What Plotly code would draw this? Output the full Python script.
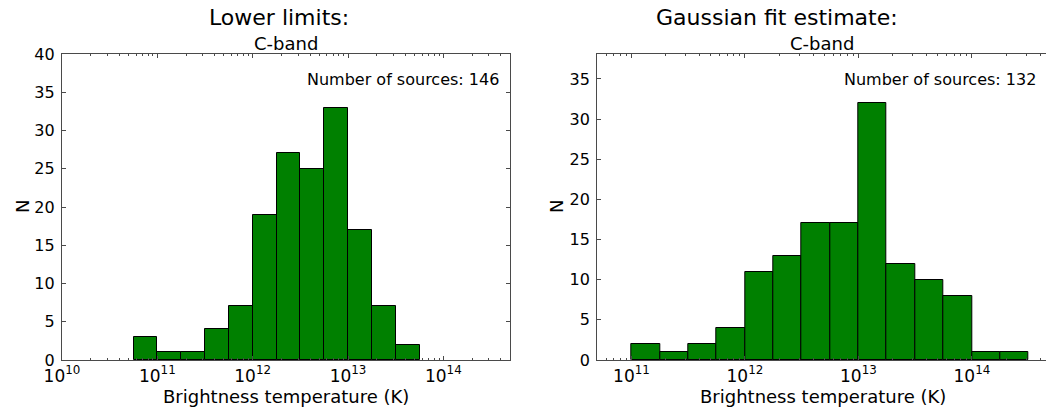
import math
import plotly.graph_objects as go

# ---------------- data ----------------
# histogram bin edges, expressed as log10(Brightness temperature / K)
lower_bin_edges = [10.75, 11.0, 11.25, 11.5, 11.75, 12.0, 12.25, 12.5, 12.75,
                   13.0, 13.25, 13.5, 13.75]
lower_counts = [3, 1, 1, 4, 7, 19, 27, 25, 33, 17, 7, 2]

gauss_bin_edges = [11.0, 11.25, 11.5, 11.75, 12.0, 12.25, 12.5, 12.75, 13.0,
                   13.25, 13.5, 13.75, 14.0, 14.25, 14.5]
gauss_counts = [2, 1, 2, 4, 11, 13, 17, 17, 32, 12, 10, 8, 1, 1]

decade_ticks_left = [10, 11, 12, 13, 14]
decade_ticks_right = [11, 12, 13, 14]
left_yticks = [0, 5, 10, 15, 20, 25, 30, 35, 40]
right_yticks = [0, 5, 10, 15, 20, 25, 30, 35]

panel_titles = ["Lower limits:", "Gaussian fit estimate:"]
band_label = "C-band"
source_labels = ["Number of sources: 146", "Number of sources: 132"]
x_label = "Brightness temperature (K)"
y_label = "N"

# ---------------- helpers ----------------
W, H = 1046, 410
FONT = "DejaVu Sans"
GREEN = "#008000"
SPINE = "#4a4a4a"


def centers(edges):
    return [(a + b) / 2 for a, b in zip(edges[:-1], edges[1:])]


def widths(edges):
    return [b - a for a, b in zip(edges[:-1], edges[1:])]


def minor_vals(lo, hi):
    out = []
    for n in range(int(math.floor(lo)), int(math.ceil(hi)) + 1):
        for k in range(2, 10):
            v = n + math.log10(k)
            if lo < v < hi:
                out.append(v)
    return out


fig = go.Figure()

fig.add_trace(go.Bar(
    x=centers(lower_bin_edges), y=lower_counts, width=widths(lower_bin_edges),
    marker=dict(color=GREEN, line=dict(color="black", width=1)),
    xaxis="x", yaxis="y", showlegend=False, hoverinfo="x+y"))

fig.add_trace(go.Bar(
    x=centers(gauss_bin_edges), y=gauss_counts, width=widths(gauss_bin_edges),
    marker=dict(color=GREEN, line=dict(color="black", width=1)),
    xaxis="x2", yaxis="y2", showlegend=False, hoverinfo="x+y"))

L0, L1 = 62 / W, 510 / W
R0, R1 = 597.3 / W, 1.0
YB, YT = 1 - 360 / H, 1 - 54 / H

left_xr = [10.0, 14.699]
right_xr = [10.699, 14.653]

xtickfont = dict(family=FONT, size=17, color="black")
ytickfont = dict(family=FONT, size=16, color="black")


def xaxis_cfg(domain, rng, ticks, anchor):
    return dict(
        domain=domain, range=rng, type="linear", anchor=anchor,
        tickmode="array", tickvals=ticks,
        ticktext=["10<sup>%d</sup>" % t for t in ticks],
        ticks="inside", ticklen=4, tickwidth=1, tickcolor=SPINE,
        showline=True, linecolor=SPINE, linewidth=1.3, mirror="allticks",
        showgrid=False, zeroline=False, tickfont=xtickfont, automargin=False,
        minor=dict(tickmode="array", tickvals=minor_vals(rng[0], rng[1]),
                   ticks="inside", ticklen=2, tickwidth=1, tickcolor=SPINE,
                   showgrid=False),
        fixedrange=True)


def yaxis_cfg(rng, ticks, anchor, mirror):
    return dict(domain=[YB, YT], range=rng, anchor=anchor,
                tickmode="array", tickvals=ticks,
                ticks="inside", ticklen=4, tickwidth=1, tickcolor=SPINE,
                showline=True, linecolor=SPINE, linewidth=1.3, mirror=mirror,
                showgrid=False, zeroline=False, tickfont=ytickfont,
                ticklabelstandoff=3, automargin=False, fixedrange=True)


fig.update_layout(
    width=W, height=H, margin=dict(l=0, r=0, t=0, b=0, autoexpand=False),
    paper_bgcolor="white", plot_bgcolor="white", bargap=0,
    font=dict(family=FONT, color="black"),
    xaxis=xaxis_cfg([L0, L1], left_xr, decade_ticks_left, "y"),
    xaxis2=xaxis_cfg([R0, R1], right_xr, decade_ticks_right, "y2"),
    yaxis=yaxis_cfg([0, 40], left_yticks, "x", "allticks"),
    yaxis2=yaxis_cfg([0, 38.1], right_yticks, "x2", False),
)


def px_x(p):
    return p / W


def px_y(p):
    return 1 - p / H


annotations = []
annotations.append(dict(x=px_x(279), y=px_y(17), text=panel_titles[0],
                        font=dict(size=22)))
annotations.append(dict(x=px_x(777), y=px_y(17), text=panel_titles[1],
                        font=dict(size=22)))
annotations.append(dict(x=px_x(286), y=px_y(44), text=band_label,
                        font=dict(size=18)))
annotations.append(dict(x=px_x(822), y=px_y(44), text=band_label,
                        font=dict(size=18)))
annotations.append(dict(x=px_x(501), y=px_y(80), text=source_labels[0],
                        xanchor="right", font=dict(size=16)))
annotations.append(dict(x=px_x(1038), y=px_y(80), text=source_labels[1],
                        xanchor="right", font=dict(size=16)))
annotations.append(dict(x=px_x(286), y=px_y(396), text=x_label,
                        font=dict(size=18)))
annotations.append(dict(x=px_x(823), y=px_y(396), text=x_label,
                        font=dict(size=18)))
annotations.append(dict(x=px_x(22), y=px_y(207), text=y_label, textangle=-90,
                        font=dict(size=18)))
annotations.append(dict(x=px_x(556), y=px_y(207), text=y_label, textangle=-90,
                        font=dict(size=18)))

for a in annotations:
    a["xref"] = "paper"
    a["yref"] = "paper"
    a["showarrow"] = False
    a.setdefault("xanchor", "center")
    a["yanchor"] = "middle"
fig.update_layout(annotations=annotations)

fig.write_html("out.html")
